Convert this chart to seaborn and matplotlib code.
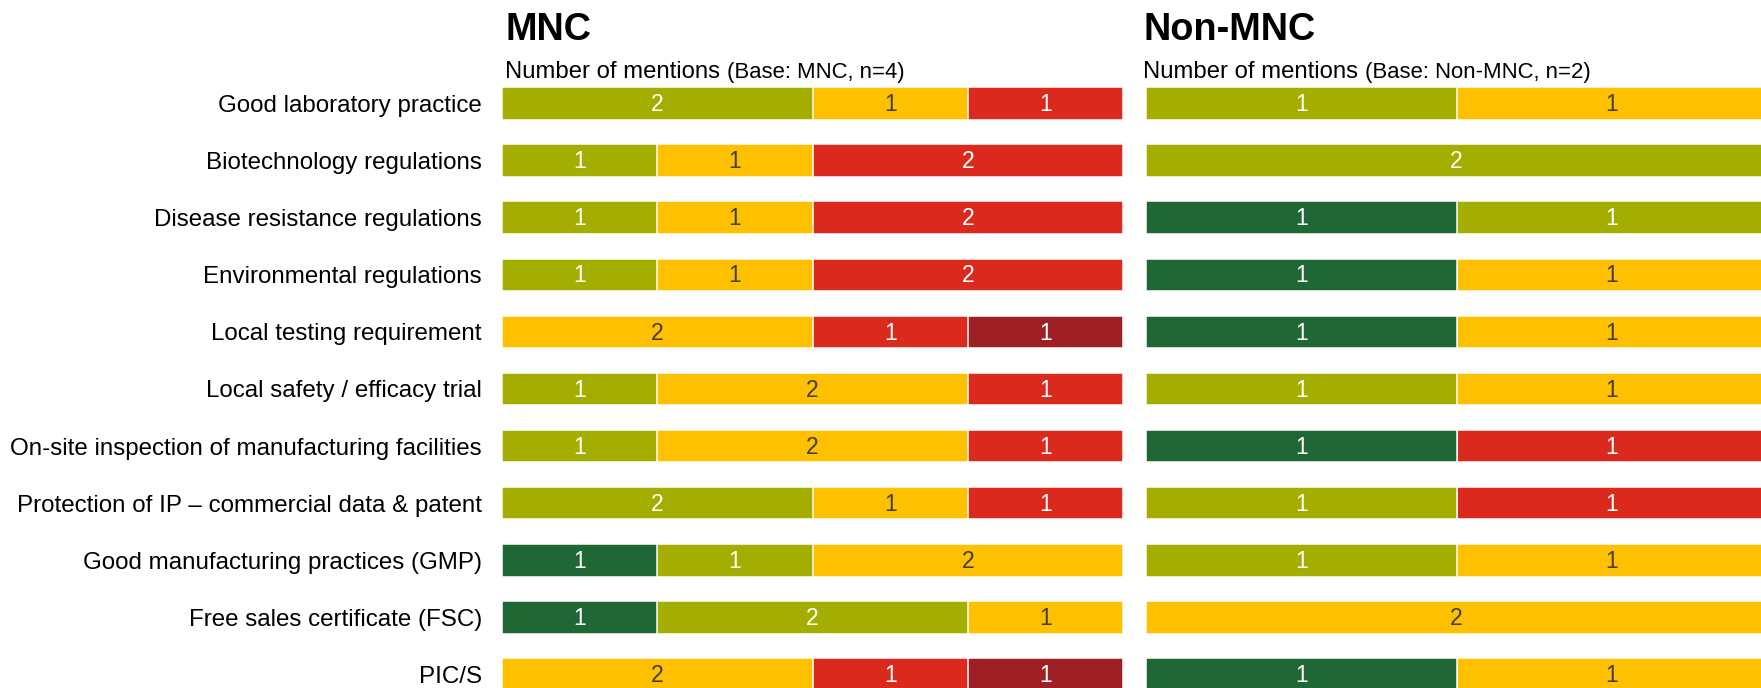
import numpy as np
import pandas as pd
import matplotlib
matplotlib.use("Agg")
import matplotlib.pyplot as plt
import seaborn as sns

# Regulatory topics (rows, top to bottom)
items = [
    "Good laboratory practice",
    "Biotechnology regulations",
    "Disease resistance regulations",
    "Environmental regulations",
    "Local testing requirement",
    "Local safety / efficacy trial",
    "On-site inspection of manufacturing facilities",
    "Protection of IP – commercial data & patent",
    "Good manufacturing practices (GMP)",
    "Free sales certificate (FSC)",
    "PIC/S",
]

# Rating levels, stacked left to right
levels = ["very_positive", "positive", "neutral", "negative", "very_negative"]
level_colors = ["#206736", "#A4AE00", "#FFC000", "#DC291E", "#9E1F24"]
value_text_colors = ["white", "white", "#404040", "white", "white"]

# MNC respondents (n=4): mentions per level
mnc_very_positive = [0, 0, 0, 0, 0, 0, 0, 0, 1, 1, 0]
mnc_positive = [2, 1, 1, 1, 0, 1, 1, 2, 1, 2, 0]
mnc_neutral = [1, 1, 1, 1, 2, 2, 2, 1, 2, 1, 2]
mnc_negative = [1, 2, 2, 2, 1, 1, 1, 1, 0, 0, 1]
mnc_very_negative = [0, 0, 0, 0, 1, 0, 0, 0, 0, 0, 1]

# Non-MNC respondents (n=2): mentions per level
non_mnc_very_positive = [0, 0, 1, 1, 1, 0, 1, 0, 0, 0, 1]
non_mnc_positive = [1, 2, 1, 0, 0, 1, 0, 1, 1, 0, 0]
non_mnc_neutral = [1, 0, 0, 1, 1, 1, 0, 0, 1, 2, 1]
non_mnc_negative = [0, 0, 0, 0, 0, 0, 1, 1, 0, 0, 0]
non_mnc_very_negative = [0, 0, 0, 0, 0, 0, 0, 0, 0, 0, 0]

mnc_title = "MNC"
mnc_subtitle = "Number of mentions"
mnc_base = "(Base: MNC, n=4)"
mnc_total = 4
non_mnc_title = "Non-MNC"
non_mnc_subtitle = "Number of mentions"
non_mnc_base = "(Base: Non-MNC, n=2)"
non_mnc_total = 2

sns.set_style("white")
plt.rcParams["font.family"] = ["Liberation Sans", "DejaVu Sans"]

W, H = 1761, 688
fig = plt.figure(figsize=(W / 100, H / 100), dpi=100)
fig.patch.set_facecolor("white")

ax_top_px, ax_bot_px = 75.0, 703.0
ax_h = (ax_bot_px - ax_top_px) / H
ax_y0 = 1 - ax_bot_px / H
ax_w = 621 / W
ax_mnc = fig.add_axes([502 / W, ax_y0, ax_w, ax_h])
ax_non = fig.add_axes([1146 / W, ax_y0, ax_w, ax_h])

BAR_W = 0.57


def draw_panel(ax, series, total, show_labels):
    counts = np.array(series, dtype=float)
    cum = counts.cumsum(axis=0)
    # Draw cumulative totals from the outermost level inwards so each
    # level's segment is the visible part not covered by earlier levels.
    for k in reversed(range(len(levels))):
        right = np.where(cum[k] > 0, cum[k], np.nan)
        frame = pd.DataFrame({"item": items, "right": right})
        sns.barplot(
            data=frame, x="right", y="item", order=items, orient="h",
            color=level_colors[k], saturation=1, width=BAR_W,
            edgecolor="white", linewidth=1.1, errorbar=None, ax=ax,
        )
    for k in range(len(levels)):
        for i in range(len(items)):
            v = counts[k, i]
            if v > 0:
                ax.text(cum[k, i] - v / 2, i + 0.02, f"{int(v)}",
                        ha="center", va="center", fontsize=16.5,
                        color=value_text_colors[k])
    ax.set_xlim(0, total)
    ax.set_ylim(len(items) - 0.5, -0.5)
    ax.set_xlabel("")
    ax.set_ylabel("")
    ax.set_xticks([])
    for s in ax.spines.values():
        s.set_visible(False)
    ax.tick_params(axis="y", length=0, pad=14.5, labelsize=17.4,
                   labelcolor="black")
    if not show_labels:
        ax.set_yticklabels([])


draw_panel(ax_mnc, [mnc_very_positive, mnc_positive, mnc_neutral,
                    mnc_negative, mnc_very_negative], mnc_total, True)
draw_panel(ax_non, [non_mnc_very_positive, non_mnc_positive, non_mnc_neutral,
                    non_mnc_negative, non_mnc_very_negative], non_mnc_total, False)


def panel_header(x_px, title, subtitle, base):
    fig.text(x_px / W, 1 - 40 / H, title, fontsize=27.3, fontweight="bold",
             ha="left", va="baseline", color="black")
    sub = fig.text(x_px / W, 1 - 83 / H, subtitle, fontsize=17.2,
                   ha="left", va="bottom", color="black")
    plt.annotate(base, xy=(1, 0), xycoords=sub, xytext=(5.0, 0),
                 textcoords="offset points", fontsize=15.9,
                 ha="left", va="bottom", color="black",
                 annotation_clip=False)


panel_header(505, mnc_title, mnc_subtitle, mnc_base)
panel_header(1143, non_mnc_title, non_mnc_subtitle, non_mnc_base)

fig.savefig("out.png", dpi=100, facecolor="white")
